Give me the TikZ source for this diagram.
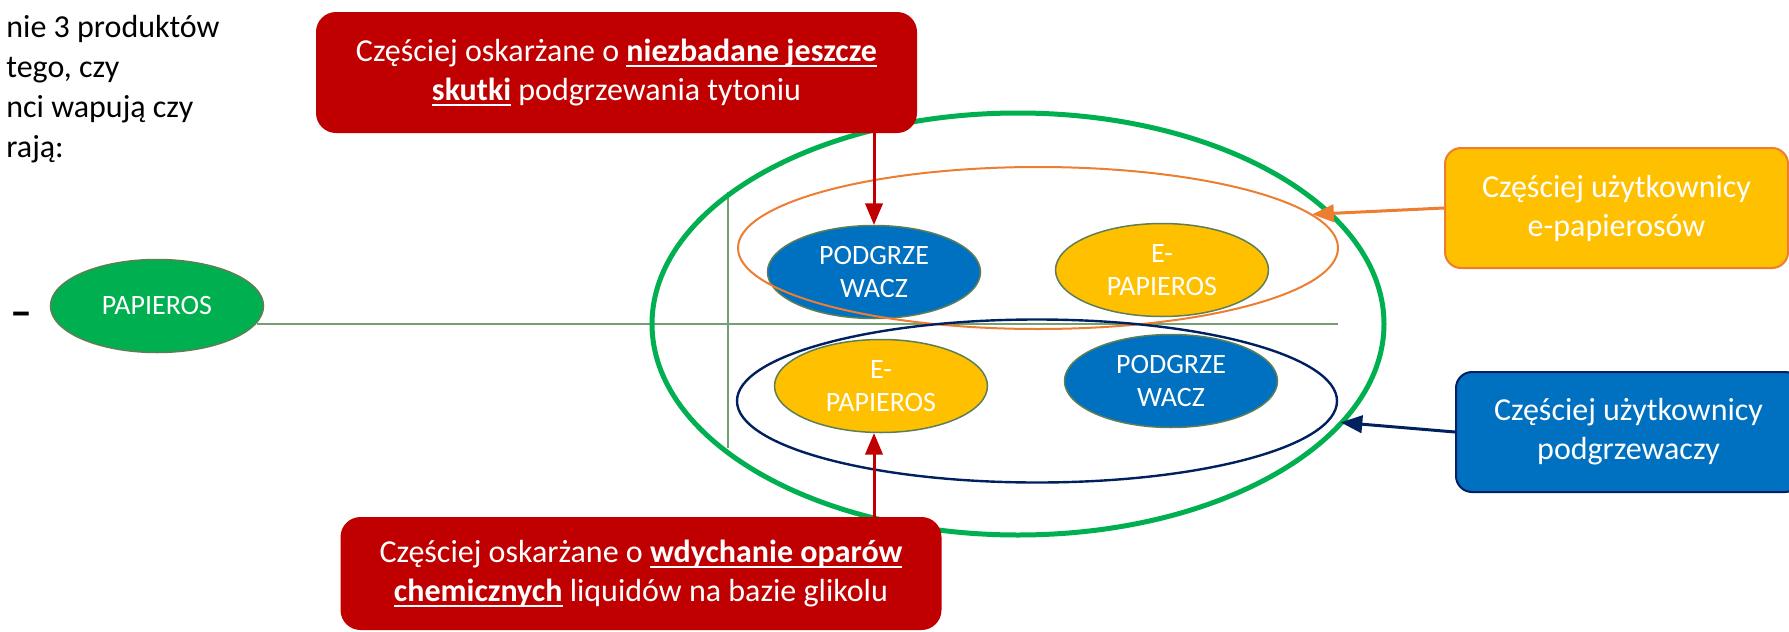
\documentclass[tikz,border=0pt]{standalone}
\usepackage{fontspec}
\setmainfont{Carlito}
\usepackage{tikz}
\usetikzlibrary{arrows,shapes.geometric}
\definecolor{c_red}{HTML}{C00000}
\definecolor{c_yel}{HTML}{FFC000}
\definecolor{c_org}{HTML}{ED7D31}
\definecolor{c_blu}{HTML}{0070C0}
\definecolor{c_nav}{HTML}{002060}
\definecolor{c_grn}{HTML}{00B050}
\definecolor{c_olv}{HTML}{5E7E55}
\definecolor{c_axe}{HTML}{72A072}
\newcommand\ulbf[1]{\setbox0\hbox{\bfseries #1}\rlap{\rule[-3pt]{\wd0}{1.3pt}}\box0\relax}
\tikzset{
  el/.style = {ellipse, align=center, inner sep=0pt, text=white,
    font=\fontsize{14}{16.5}\selectfont, draw=c_olv, line width=0.75pt,
    minimum width=106.5pt, minimum height=46.5pt},% produkt
  el_g/.style = {el, fill=c_grn},% papieros
  el_b/.style = {el, fill=c_blu},% podgrzewacz
  el_y/.style = {el, fill=c_yel},% e-papieros
  ring/.style = {ellipse, inner sep=0pt, draw},% obwodka
  box/.style = {rectangle, align=center, inner sep=0pt, text=white,
    font=\fontsize{16}{19.5}\selectfont},
  box_r/.style = {box, rounded corners=10pt, fill=c_red, minimum width=300.5pt},% czerwona ramka
  box_y/.style = {box, rounded corners=8pt, fill=c_yel, draw=c_org, line width=1pt,
    minimum width=171.5pt, minimum height=60pt},% uzytkownicy e-papierosow
  box_b/.style = {box, rounded corners=8pt, fill=c_blu, draw=c_nav, line width=1pt,
    minimum width=172.5pt, minimum height=60pt},% uzytkownicy podgrzewaczy
  axe/.style = {draw=c_axe, line width=1pt},% os
  arr/.style = {->, >=triangle 45, line width=1.5pt}
}

\begin{document}
\begin{tikzpicture}[x=0.5pt, y=-0.5pt]
\useasboundingbox (0,0) rectangle (1789,632);

\node [anchor=north west, align=left, inner sep=0pt, font=\fontsize{16}{20}\selectfont] (intro) at (6,15)
  {nie 3 produktów\\tego, czy\\nci wapują czy\\rają:};
\node [inner sep=0pt, font=\fontsize{22}{22}\selectfont\bfseries] (minus) at (21,319) {–};

\node [el_g] (papieros) at (157,306) {PAPIEROS};
\node [el_b] (podA) at (874,272) {PODGRZE\\WACZ};
\node [el_y] (epapA) at (1162,270) {E-\\PAPIEROS};
\node [el_y] (epapB) at (881,386) {E-\\PAPIEROS};
\node [el_b] (podB) at (1171,381) {PODGRZE\\WACZ};

% osie
\coordinate (h_end) at (1338,325);
\coordinate (v_top) at (728,192);
\coordinate (v_bot) at (728,448);
\draw [axe] (papieros.-10) -- (papieros.-10 -| h_end);
\draw [axe] (v_top) -- (v_bot);

\node [ring, draw=c_grn, line width=2.5pt, minimum width=366pt, minimum height=211pt] (ringG) at (1018,324) {};
\node [ring, draw=c_org, line width=1pt, minimum width=300pt, minimum height=81pt] (ringO) at (1038,248) {};
\node [ring, draw=c_nav, line width=1.2pt, minimum width=300pt, minimum height=81.5pt] (ringN) at (1037,401) {};

\node [box_r, minimum height=60.5pt] (redA) at (616.5,72.5)
  {Częściej oskarżane o \ulbf{niezbadane jeszcze}\\\ulbf{skutki} podgrzewania tytoniu};
\node [box_r, minimum height=56.5pt] (redB) at (641,573.5)
  {Częściej oskarżane o \ulbf{wdychanie oparów}\\\ulbf{chemicznych} liquidów na bazie glikolu};
\node [box_y] (usersE) at (1616.5,208) {Częściej użytkownicy\\e-papierosów};
\node [box_b] (usersH) at (1628.5,432) {Częściej użytkownicy\\podgrzewaczy};

\draw [arr, c_red] (podA.north |- redA.south) -- (podA.north);
\draw [arr, c_red] (podA.north |- redB.north) -- (podA.north |- epapB.south);
\draw [arr, c_org] (usersE.west) -- (ringO.7);
\draw [arr, c_nav, shorten >=6pt] (usersH.west) -- (ringN.-4);
\end{tikzpicture}
\end{document}
